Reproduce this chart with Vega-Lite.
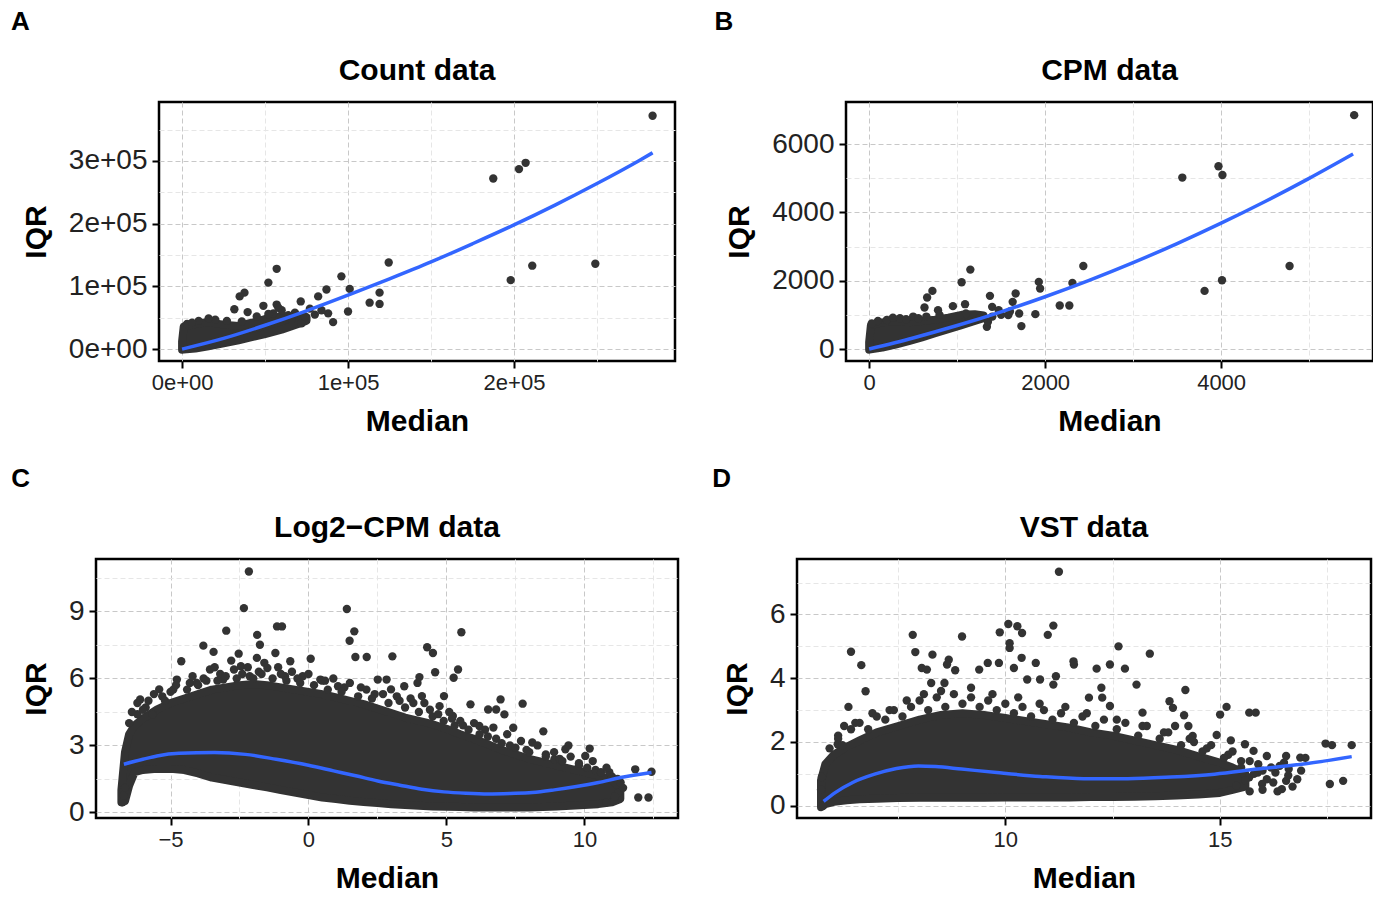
{
  "$schema": "https://vega.github.io/schema/vega-lite/v6.json",
  "padding": {"left": 10, "top": 8, "right": 0, "bottom": 0},
  "spacing": 27,
  "columns": 1,
  "align": "none",
  "datasets": {
    "ptsA": [
      {"m": 283500, "iqr": 372000}, {"m": 187500, "iqr": 272000}, {"m": 203000, "iqr": 287000}, {"m": 207000, "iqr": 297000},
      {"m": 198000, "iqr": 110000}, {"m": 211000, "iqr": 133000}, {"m": 249000, "iqr": 136000}, {"m": 124500, "iqr": 138000},
      {"m": 96000, "iqr": 116000}, {"m": 101000, "iqr": 96000}, {"m": 100000, "iqr": 60000}, {"m": 119000, "iqr": 90000},
      {"m": 113000, "iqr": 74000}, {"m": 119000, "iqr": 72000}, {"m": 87000, "iqr": 95000}, {"m": 82000, "iqr": 84000},
      {"m": 91000, "iqr": 43000}, {"m": 88000, "iqr": 57000}, {"m": 84000, "iqr": 62000}, {"m": 71500, "iqr": 76000},
      {"m": 57000, "iqr": 128000}, {"m": 52000, "iqr": 106000}, {"m": 37600, "iqr": 90000}, {"m": 34700, "iqr": 84000},
      {"m": 39500, "iqr": 59000}, {"m": 31500, "iqr": 63500}, {"m": 49000, "iqr": 69000}, {"m": 57000, "iqr": 71000},
      {"m": 55000, "iqr": 57000}, {"m": 72000, "iqr": 41000}, {"m": 77000, "iqr": 64500}, {"m": 64000, "iqr": 54000},
      {"m": 66000, "iqr": 48000}, {"m": 74000, "iqr": 52000}, {"m": 80000, "iqr": 55000}, {"m": 45000, "iqr": 52000},
      {"m": 20000, "iqr": 47000}, {"m": 10000, "iqr": 45000}, {"m": 3000, "iqr": 40000}, {"m": 60000, "iqr": 62000},
      {"m": 68000, "iqr": 58000}, {"m": 58000, "iqr": 66000}, {"m": 27000, "iqr": 45000}, {"m": 36000, "iqr": 44000},
      {"m": 16000, "iqr": 49000}, {"m": 6000, "iqr": 42000}, {"m": 52000, "iqr": 56000}
    ],
    "areaA": [
      {"m": 0, "iqr": -1000, "iqr2": 12000}, {"m": 1000, "iqr": -500, "iqr2": 36000}, {"m": 8000, "iqr": 1000, "iqr2": 40000},
      {"m": 15000, "iqr": 4000, "iqr2": 43000}, {"m": 25000, "iqr": 9000, "iqr2": 39000}, {"m": 34000, "iqr": 14000, "iqr2": 37000},
      {"m": 42000, "iqr": 19000, "iqr2": 42000}, {"m": 50000, "iqr": 24000, "iqr2": 48000}, {"m": 60000, "iqr": 31000, "iqr2": 52000},
      {"m": 70000, "iqr": 40000, "iqr2": 53000}, {"m": 75000, "iqr": 45000, "iqr2": 51000}
    ],
    "lineA": [
      {"m": 0, "iqr": 0}, {"m": 25000, "iqr": 17000}, {"m": 50000, "iqr": 38000}, {"m": 75000, "iqr": 61000},
      {"m": 100000, "iqr": 86000}, {"m": 125000, "iqr": 112000}, {"m": 150000, "iqr": 139000}, {"m": 175000, "iqr": 168000},
      {"m": 200000, "iqr": 198000}, {"m": 225000, "iqr": 230000}, {"m": 250000, "iqr": 264000}, {"m": 275000, "iqr": 300000},
      {"m": 283500, "iqr": 313000}
    ],
    "ptsB": [
      {"m": 5512, "iqr": 6848}, {"m": 3559, "iqr": 5020}, {"m": 3970, "iqr": 5350}, {"m": 4015, "iqr": 5097},
      {"m": 3812, "iqr": 1702}, {"m": 4010, "iqr": 2014}, {"m": 4778, "iqr": 2432}, {"m": 2434, "iqr": 2432},
      {"m": 2310, "iqr": 1936}, {"m": 2275, "iqr": 1274}, {"m": 2166, "iqr": 1274}, {"m": 1928, "iqr": 1965},
      {"m": 1943, "iqr": 1770}, {"m": 1889, "iqr": 1021}, {"m": 1665, "iqr": 1624}, {"m": 1631, "iqr": 1381},
      {"m": 1705, "iqr": 1041}, {"m": 1730, "iqr": 671}, {"m": 1581, "iqr": 992}, {"m": 1373, "iqr": 1556},
      {"m": 1398, "iqr": 1235}, {"m": 1150, "iqr": 2325}, {"m": 1051, "iqr": 1955}, {"m": 719, "iqr": 1702},
      {"m": 659, "iqr": 1508}, {"m": 783, "iqr": 1138}, {"m": 629, "iqr": 1216}, {"m": 952, "iqr": 1255},
      {"m": 1090, "iqr": 1313}, {"m": 1100, "iqr": 1041}, {"m": 1338, "iqr": 652}, {"m": 1472, "iqr": 1138},
      {"m": 1200, "iqr": 846}, {"m": 500, "iqr": 950}, {"m": 350, "iqr": 900}, {"m": 200, "iqr": 850},
      {"m": 100, "iqr": 820}, {"m": 30, "iqr": 750}, {"m": 1250, "iqr": 900}, {"m": 1400, "iqr": 950},
      {"m": 1500, "iqr": 1000}, {"m": 1600, "iqr": 1100}, {"m": 1350, "iqr": 800}, {"m": 800, "iqr": 1000},
      {"m": 650, "iqr": 950}, {"m": 420, "iqr": 870}, {"m": 560, "iqr": 900}, {"m": 270, "iqr": 920}
    ],
    "areaB": [
      {"m": 0, "iqr": -20, "iqr2": 200}, {"m": 20, "iqr": -10, "iqr2": 700}, {"m": 150, "iqr": 40, "iqr2": 780},
      {"m": 300, "iqr": 130, "iqr2": 820}, {"m": 450, "iqr": 230, "iqr2": 780}, {"m": 600, "iqr": 340, "iqr2": 820},
      {"m": 750, "iqr": 460, "iqr2": 860}, {"m": 900, "iqr": 580, "iqr2": 920}, {"m": 1050, "iqr": 700, "iqr2": 1000},
      {"m": 1200, "iqr": 820, "iqr2": 1020}, {"m": 1300, "iqr": 900, "iqr2": 980}
    ],
    "lineB": [
      {"m": 0, "iqr": 0}, {"m": 500, "iqr": 324}, {"m": 1000, "iqr": 687}, {"m": 1500, "iqr": 1089},
      {"m": 2000, "iqr": 1530}, {"m": 2500, "iqr": 2010}, {"m": 3000, "iqr": 2529}, {"m": 3500, "iqr": 3087},
      {"m": 4000, "iqr": 3685}, {"m": 4500, "iqr": 4320}, {"m": 5000, "iqr": 4996}, {"m": 5500, "iqr": 5710}
    ],
    "ptsC": [
      {"m": -2.16, "iqr": 10.79}, {"m": -2.34, "iqr": 9.15}, {"m": 1.39, "iqr": 9.11}, {"m": -2.98, "iqr": 8.14},
      {"m": -1.86, "iqr": 7.95}, {"m": -1.76, "iqr": 7.51}, {"m": -1.14, "iqr": 8.33}, {"m": -0.96, "iqr": 8.33},
      {"m": 5.54, "iqr": 8.07}, {"m": 1.66, "iqr": 8.11}, {"m": 1.49, "iqr": 7.69}, {"m": -3.81, "iqr": 7.47},
      {"m": -3.44, "iqr": 7.19}, {"m": -2.53, "iqr": 7.11}, {"m": -1.2, "iqr": 7.14}, {"m": 4.3, "iqr": 7.4},
      {"m": 4.51, "iqr": 7.14}, {"m": -1.87, "iqr": 6.92}, {"m": 0.08, "iqr": 6.88}, {"m": -0.66, "iqr": 6.77},
      {"m": 1.7, "iqr": 6.96}, {"m": 2.11, "iqr": 6.96}, {"m": 3.04, "iqr": 6.99}, {"m": -4.61, "iqr": 6.77},
      {"m": 5.42, "iqr": 6.4}, {"m": 5.26, "iqr": 6.03}, {"m": 4.59, "iqr": 6.28}, {"m": 4.02, "iqr": 6.06},
      {"m": -3.57, "iqr": 6.4}, {"m": -2.45, "iqr": 6.55}, {"m": -1.49, "iqr": 6.47}, {"m": -0.21, "iqr": 6.1},
      {"m": 0.43, "iqr": 5.95}, {"m": 2.51, "iqr": 5.95}, {"m": 2.83, "iqr": 5.95}, {"m": 3.47, "iqr": 5.65},
      {"m": 3.95, "iqr": 5.8}, {"m": -5.41, "iqr": 5.51}, {"m": -6.1, "iqr": 5.06}, {"m": -5.65, "iqr": 4.39},
      {"m": -4.77, "iqr": 5.95}, {"m": 5.87, "iqr": 4.84}, {"m": 6.51, "iqr": 4.61}, {"m": 6.8, "iqr": 4.61},
      {"m": 6.96, "iqr": 5.06}, {"m": 7.1, "iqr": 4.39}, {"m": 7.76, "iqr": 4.87}, {"m": 7.42, "iqr": 3.79},
      {"m": 8.51, "iqr": 3.63}, {"m": 9.42, "iqr": 3.0}, {"m": 9.31, "iqr": 2.83}, {"m": 10.19, "iqr": 2.86},
      {"m": 10.03, "iqr": 2.53}, {"m": 11.84, "iqr": 1.93}, {"m": 12.43, "iqr": 1.82}, {"m": 11.95, "iqr": 0.67},
      {"m": 12.32, "iqr": 0.67}, {"m": 5.23, "iqr": 4.32}, {"m": 4.75, "iqr": 4.76}, {"m": 4.91, "iqr": 5.21},
      {"m": 4.11, "iqr": 5.21}, {"m": 2.99, "iqr": 5.51}, {"m": 1.07, "iqr": 5.65}, {"m": -0.85, "iqr": 6.1},
      {"m": -2.13, "iqr": 6.1}, {"m": -3.09, "iqr": 5.95}, {"m": -4.05, "iqr": 5.8}, {"m": 6.19, "iqr": 3.87},
      {"m": 8.11, "iqr": 3.13}, {"m": 8.91, "iqr": 2.38}, {"m": 10.99, "iqr": 1.56}, {"m": 11.31, "iqr": 1.34},
      {"m": 11.23, "iqr": 0.89}, {"m": -6.2, "iqr": 4.4}, {"m": -5.9, "iqr": 4.7}, {"m": -5.3, "iqr": 5.2},
      {"m": -4.9, "iqr": 5.5}, {"m": -4.3, "iqr": 5.8}, {"m": -3.8, "iqr": 6.0}, {"m": -3.2, "iqr": 6.2},
      {"m": -2.7, "iqr": 6.4}, {"m": -1.8, "iqr": 6.3}, {"m": -1.0, "iqr": 6.2}, {"m": -0.4, "iqr": 6.0},
      {"m": 0.6, "iqr": 5.9}, {"m": 1.3, "iqr": 5.6}, {"m": 1.9, "iqr": 5.6}, {"m": 2.4, "iqr": 5.3},
      {"m": 3.3, "iqr": 5.0}, {"m": 3.8, "iqr": 4.9}, {"m": 4.4, "iqr": 4.6}, {"m": 5.2, "iqr": 4.2},
      {"m": 5.6, "iqr": 3.9}, {"m": 6.4, "iqr": 3.7}, {"m": 6.8, "iqr": 3.3}, {"m": 7.3, "iqr": 3.0},
      {"m": 7.9, "iqr": 2.8}, {"m": 8.6, "iqr": 2.6}, {"m": 9.1, "iqr": 2.4}, {"m": 9.8, "iqr": 2.1},
      {"m": 10.4, "iqr": 1.9}, {"m": 10.9, "iqr": 1.8}, {"m": 11.4, "iqr": 1.1}, {"m": 11.1, "iqr": 0.7},
      {"m": 10.8, "iqr": 0.45}, {"m": -6.75, "iqr": 0.45}, {"m": -6.7, "iqr": 0.75}, {"m": -6.65, "iqr": 1.1},
      {"m": -6.5, "iqr": 4.0}, {"m": -6.4, "iqr": 4.5}, {"m": -6.2, "iqr": 4.9}, {"m": -6.0, "iqr": 4.6},
      {"m": -5.8, "iqr": 5.0}, {"m": -5.6, "iqr": 5.3}, {"m": -5.2, "iqr": 5.0}, {"m": -5.0, "iqr": 5.4},
      {"m": -4.8, "iqr": 5.7}, {"m": -4.4, "iqr": 5.5}, {"m": -4.2, "iqr": 6.1}, {"m": -4.0, "iqr": 5.7},
      {"m": -3.7, "iqr": 5.9}, {"m": -3.4, "iqr": 6.5}, {"m": -3.3, "iqr": 5.9}, {"m": -3.0, "iqr": 6.1},
      {"m": -2.8, "iqr": 6.8}, {"m": -2.6, "iqr": 6.0}, {"m": -2.4, "iqr": 6.2}, {"m": -2.2, "iqr": 6.5},
      {"m": -2.0, "iqr": 6.0}, {"m": -1.7, "iqr": 6.2}, {"m": -1.6, "iqr": 6.7}, {"m": -1.3, "iqr": 6.0},
      {"m": -1.1, "iqr": 6.5}, {"m": -0.8, "iqr": 5.9}, {"m": -0.6, "iqr": 6.3}, {"m": -0.3, "iqr": 5.8},
      {"m": 0.0, "iqr": 6.2}, {"m": 0.2, "iqr": 5.7}, {"m": 0.5, "iqr": 5.9}, {"m": 0.7, "iqr": 5.5},
      {"m": 0.9, "iqr": 6.0}, {"m": 1.2, "iqr": 5.4}, {"m": 1.5, "iqr": 5.8}, {"m": 1.8, "iqr": 5.2},
      {"m": 2.1, "iqr": 5.5}, {"m": 2.3, "iqr": 5.1}, {"m": 2.7, "iqr": 5.3}, {"m": 2.9, "iqr": 4.9},
      {"m": 3.2, "iqr": 5.2}, {"m": 3.5, "iqr": 4.7}, {"m": 3.7, "iqr": 5.1}, {"m": 4.0, "iqr": 4.5},
      {"m": 4.2, "iqr": 4.9}, {"m": 4.5, "iqr": 4.3}, {"m": 4.7, "iqr": 4.4}, {"m": 4.9, "iqr": 4.1},
      {"m": 5.1, "iqr": 4.5}, {"m": 5.3, "iqr": 3.9}, {"m": 5.5, "iqr": 4.1}, {"m": 5.8, "iqr": 3.7},
      {"m": 6.0, "iqr": 4.0}, {"m": 6.2, "iqr": 3.5}, {"m": 6.5, "iqr": 3.4}, {"m": 6.7, "iqr": 3.8},
      {"m": 7.0, "iqr": 3.1}, {"m": 7.2, "iqr": 3.5}, {"m": 7.5, "iqr": 2.9}, {"m": 7.7, "iqr": 3.2},
      {"m": 8.0, "iqr": 2.7}, {"m": 8.3, "iqr": 3.0}, {"m": 8.6, "iqr": 2.5}, {"m": 8.9, "iqr": 2.7},
      {"m": 9.2, "iqr": 2.3}, {"m": 9.5, "iqr": 2.5}, {"m": 9.8, "iqr": 2.2}, {"m": 10.1, "iqr": 2.0},
      {"m": 10.3, "iqr": 2.3}, {"m": 10.6, "iqr": 1.8}, {"m": 10.8, "iqr": 2.0}, {"m": 11.0, "iqr": 1.6},
      {"m": 11.2, "iqr": 1.5}
    ],
    "areaC": [
      {"m": -6.78, "iqr": 0.45, "iqr2": 1.0}, {"m": -6.65, "iqr": 0.5, "iqr2": 2.7}, {"m": -6.5, "iqr": 1.2, "iqr2": 3.5},
      {"m": -6.3, "iqr": 1.8, "iqr2": 3.9}, {"m": -6.0, "iqr": 1.9, "iqr2": 4.2}, {"m": -5.5, "iqr": 1.95, "iqr2": 4.6},
      {"m": -5.0, "iqr": 1.95, "iqr2": 4.9}, {"m": -4.5, "iqr": 1.9, "iqr2": 5.1}, {"m": -4.0, "iqr": 1.75, "iqr2": 5.3},
      {"m": -3.5, "iqr": 1.56, "iqr2": 5.5}, {"m": -3.0, "iqr": 1.45, "iqr2": 5.6}, {"m": -2.5, "iqr": 1.34, "iqr2": 5.7},
      {"m": -2.0, "iqr": 1.23, "iqr2": 5.75}, {"m": -1.5, "iqr": 1.12, "iqr2": 5.7}, {"m": -1.0, "iqr": 1.0, "iqr2": 5.6},
      {"m": -0.5, "iqr": 0.89, "iqr2": 5.5}, {"m": 0, "iqr": 0.78, "iqr2": 5.4}, {"m": 0.5, "iqr": 0.67, "iqr2": 5.3},
      {"m": 1.0, "iqr": 0.6, "iqr2": 5.15}, {"m": 1.5, "iqr": 0.52, "iqr2": 5.0}, {"m": 2.0, "iqr": 0.47, "iqr2": 4.85},
      {"m": 2.5, "iqr": 0.42, "iqr2": 4.65}, {"m": 3.0, "iqr": 0.37, "iqr2": 4.45}, {"m": 3.5, "iqr": 0.33, "iqr2": 4.25},
      {"m": 4.0, "iqr": 0.3, "iqr2": 4.1}, {"m": 4.5, "iqr": 0.27, "iqr2": 3.95}, {"m": 5.0, "iqr": 0.25, "iqr2": 3.75},
      {"m": 5.5, "iqr": 0.24, "iqr2": 3.5}, {"m": 6.0, "iqr": 0.22, "iqr2": 3.3}, {"m": 6.5, "iqr": 0.22, "iqr2": 3.05},
      {"m": 7.0, "iqr": 0.22, "iqr2": 2.8}, {"m": 7.5, "iqr": 0.22, "iqr2": 2.6}, {"m": 8.0, "iqr": 0.22, "iqr2": 2.4},
      {"m": 8.5, "iqr": 0.24, "iqr2": 2.25}, {"m": 9.0, "iqr": 0.27, "iqr2": 2.1}, {"m": 9.5, "iqr": 0.3, "iqr2": 1.95},
      {"m": 10.0, "iqr": 0.33, "iqr2": 1.8}, {"m": 10.5, "iqr": 0.37, "iqr2": 1.65}, {"m": 11.0, "iqr": 0.45, "iqr2": 1.45},
      {"m": 11.3, "iqr": 0.6, "iqr2": 1.1}
    ],
    "lineC": [
      {"m": -6.69, "iqr": 2.16}, {"m": -6.0, "iqr": 2.38}, {"m": -5.49, "iqr": 2.53}, {"m": -4.69, "iqr": 2.65},
      {"m": -3.41, "iqr": 2.68}, {"m": -2.29, "iqr": 2.6}, {"m": -1.17, "iqr": 2.38}, {"m": 0, "iqr": 2.11},
      {"m": 0.91, "iqr": 1.86}, {"m": 1.71, "iqr": 1.64}, {"m": 2.51, "iqr": 1.41}, {"m": 3.31, "iqr": 1.22},
      {"m": 4.11, "iqr": 1.04}, {"m": 4.91, "iqr": 0.92}, {"m": 5.71, "iqr": 0.86}, {"m": 6.51, "iqr": 0.83},
      {"m": 7.31, "iqr": 0.85}, {"m": 8.11, "iqr": 0.89}, {"m": 8.91, "iqr": 1.01}, {"m": 9.71, "iqr": 1.16},
      {"m": 10.51, "iqr": 1.34}, {"m": 11.31, "iqr": 1.56}, {"m": 12.43, "iqr": 1.79}
    ],
    "ptsD": [
      {"m": 11.25, "iqr": 7.34}, {"m": 10.07, "iqr": 5.7}, {"m": 10.28, "iqr": 5.63}, {"m": 11.12, "iqr": 5.65},
      {"m": 10.99, "iqr": 5.36}, {"m": 9.87, "iqr": 5.44}, {"m": 10.39, "iqr": 5.42}, {"m": 10.1, "iqr": 5.1},
      {"m": 10.1, "iqr": 4.95}, {"m": 7.84, "iqr": 5.36}, {"m": 8.99, "iqr": 5.31}, {"m": 6.4, "iqr": 4.83},
      {"m": 6.64, "iqr": 4.41}, {"m": 6.74, "iqr": 3.59}, {"m": 6.34, "iqr": 3.1}, {"m": 7.9, "iqr": 4.82},
      {"m": 8.3, "iqr": 4.74}, {"m": 8.05, "iqr": 4.32}, {"m": 8.17, "iqr": 4.27}, {"m": 8.68, "iqr": 4.58},
      {"m": 8.64, "iqr": 4.43}, {"m": 8.83, "iqr": 4.25}, {"m": 8.27, "iqr": 3.85}, {"m": 8.58, "iqr": 3.85},
      {"m": 9.39, "iqr": 4.27}, {"m": 9.59, "iqr": 4.48}, {"m": 9.85, "iqr": 4.48}, {"m": 10.2, "iqr": 4.32},
      {"m": 10.38, "iqr": 4.64}, {"m": 10.71, "iqr": 4.48}, {"m": 10.51, "iqr": 3.96}, {"m": 10.81, "iqr": 3.96},
      {"m": 11.18, "iqr": 4.06}, {"m": 11.12, "iqr": 3.8}, {"m": 11.59, "iqr": 4.53}, {"m": 11.6, "iqr": 4.43},
      {"m": 12.13, "iqr": 4.3}, {"m": 12.44, "iqr": 4.43}, {"m": 12.64, "iqr": 5.0}, {"m": 12.79, "iqr": 4.3},
      {"m": 13.37, "iqr": 4.77}, {"m": 13.06, "iqr": 3.8}, {"m": 12.24, "iqr": 3.7}, {"m": 12.26, "iqr": 3.39},
      {"m": 12.44, "iqr": 3.13}, {"m": 11.95, "iqr": 3.39}, {"m": 13.2, "iqr": 2.92}, {"m": 14.2, "iqr": 3.63},
      {"m": 13.83, "iqr": 3.28}, {"m": 13.91, "iqr": 3.07}, {"m": 14.17, "iqr": 2.84}, {"m": 13.96, "iqr": 2.5},
      {"m": 14.27, "iqr": 2.5}, {"m": 14.37, "iqr": 2.19}, {"m": 15.16, "iqr": 3.1}, {"m": 15.01, "iqr": 2.86},
      {"m": 15.69, "iqr": 2.92}, {"m": 15.84, "iqr": 2.92}, {"m": 14.93, "iqr": 2.22}, {"m": 15.26, "iqr": 2.05},
      {"m": 15.59, "iqr": 1.93}, {"m": 15.79, "iqr": 1.72}, {"m": 16.1, "iqr": 1.56}, {"m": 16.55, "iqr": 1.56},
      {"m": 16.88, "iqr": 1.51}, {"m": 17.47, "iqr": 1.95}, {"m": 17.62, "iqr": 1.9}, {"m": 18.08, "iqr": 1.9},
      {"m": 16.4, "iqr": 1.25}, {"m": 16.61, "iqr": 1.15}, {"m": 16.81, "iqr": 0.83}, {"m": 16.45, "iqr": 0.52},
      {"m": 16.55, "iqr": 0.78}, {"m": 17.57, "iqr": 0.68}, {"m": 17.88, "iqr": 0.78}, {"m": 16.25, "iqr": 0.73},
      {"m": 15.89, "iqr": 1.04}, {"m": 15.69, "iqr": 0.89}, {"m": 15.39, "iqr": 0.63}, {"m": 15.99, "iqr": 0.68},
      {"m": 16.3, "iqr": 1.04}, {"m": 16.5, "iqr": 1.35}, {"m": 16.1, "iqr": 0.83}, {"m": 6.24, "iqr": 2.5},
      {"m": 6.09, "iqr": 1.93}, {"m": 6.1, "iqr": 2.2}, {"m": 6.5, "iqr": 2.6}, {"m": 6.9, "iqr": 2.9},
      {"m": 7.3, "iqr": 3.0}, {"m": 7.7, "iqr": 3.3}, {"m": 8.1, "iqr": 3.5}, {"m": 8.5, "iqr": 3.6},
      {"m": 9.2, "iqr": 3.7}, {"m": 9.7, "iqr": 3.5}, {"m": 10.3, "iqr": 3.4}, {"m": 10.8, "iqr": 3.2},
      {"m": 11.4, "iqr": 3.1}, {"m": 11.9, "iqr": 2.9}, {"m": 12.6, "iqr": 2.7}, {"m": 13.2, "iqr": 2.5},
      {"m": 13.7, "iqr": 2.3}, {"m": 14.4, "iqr": 2.0}, {"m": 14.7, "iqr": 1.8}, {"m": 15.2, "iqr": 1.6},
      {"m": 15.5, "iqr": 1.4}, {"m": 15.9, "iqr": 1.3}, {"m": 16.2, "iqr": 1.2}, {"m": 16.6, "iqr": 0.95},
      {"m": 16.9, "iqr": 1.1}, {"m": 17.0, "iqr": 1.5}, {"m": 16.7, "iqr": 0.6}, {"m": 16.35, "iqr": 0.45},
      {"m": 5.75, "iqr": 0.0}, {"m": 5.7, "iqr": 0.5}, {"m": 5.72, "iqr": 0.9}, {"m": 15.7, "iqr": 0.45},
      {"m": 16.0, "iqr": 0.5},
      {"m": 5.9, "iqr": 1.8}, {"m": 6.1, "iqr": 2.1}, {"m": 6.2, "iqr": 1.9}, {"m": 6.4, "iqr": 2.4},
      {"m": 6.6, "iqr": 2.6}, {"m": 6.8, "iqr": 2.4}, {"m": 7.0, "iqr": 2.8}, {"m": 7.2, "iqr": 2.7},
      {"m": 7.4, "iqr": 3.0}, {"m": 7.6, "iqr": 2.8}, {"m": 7.8, "iqr": 3.1}, {"m": 8.0, "iqr": 3.3},
      {"m": 8.2, "iqr": 3.0}, {"m": 8.4, "iqr": 3.4}, {"m": 8.6, "iqr": 3.1}, {"m": 8.8, "iqr": 3.5},
      {"m": 9.0, "iqr": 3.2}, {"m": 9.2, "iqr": 3.4}, {"m": 9.4, "iqr": 3.1}, {"m": 9.6, "iqr": 3.3},
      {"m": 9.8, "iqr": 3.0}, {"m": 10.0, "iqr": 3.2}, {"m": 10.2, "iqr": 2.9}, {"m": 10.4, "iqr": 3.1},
      {"m": 10.6, "iqr": 2.8}, {"m": 10.9, "iqr": 3.0}, {"m": 11.1, "iqr": 2.7}, {"m": 11.3, "iqr": 2.9},
      {"m": 11.6, "iqr": 2.6}, {"m": 11.8, "iqr": 2.8}, {"m": 12.1, "iqr": 2.5}, {"m": 12.3, "iqr": 2.7},
      {"m": 12.6, "iqr": 2.4}, {"m": 12.8, "iqr": 2.6}, {"m": 13.1, "iqr": 2.2}, {"m": 13.3, "iqr": 2.5},
      {"m": 13.6, "iqr": 2.1}, {"m": 13.8, "iqr": 2.3}, {"m": 14.1, "iqr": 1.9}, {"m": 14.3, "iqr": 2.1},
      {"m": 14.6, "iqr": 1.7}, {"m": 14.8, "iqr": 1.9}, {"m": 15.1, "iqr": 1.5}, {"m": 15.3, "iqr": 1.7},
      {"m": 15.5, "iqr": 1.2}, {"m": 15.7, "iqr": 1.4}, {"m": 15.6, "iqr": 0.8}, {"m": 15.8, "iqr": 1.0},
      {"m": 16.0, "iqr": 1.1}
    ],
    "areaD": [
      {"m": 5.7, "iqr": -0.05, "iqr2": 0.8}, {"m": 5.8, "iqr": 0.05, "iqr2": 1.3}, {"m": 6.0, "iqr": 0.12, "iqr2": 1.6},
      {"m": 6.3, "iqr": 0.17, "iqr2": 1.85}, {"m": 6.6, "iqr": 0.2, "iqr2": 2.05}, {"m": 7.0, "iqr": 0.22, "iqr2": 2.3},
      {"m": 7.5, "iqr": 0.24, "iqr2": 2.5}, {"m": 8.0, "iqr": 0.25, "iqr2": 2.7}, {"m": 8.5, "iqr": 0.25, "iqr2": 2.85},
      {"m": 9.0, "iqr": 0.25, "iqr2": 2.9}, {"m": 9.5, "iqr": 0.25, "iqr2": 2.85}, {"m": 10.0, "iqr": 0.26, "iqr2": 2.75},
      {"m": 10.5, "iqr": 0.26, "iqr2": 2.65}, {"m": 11.0, "iqr": 0.26, "iqr2": 2.55}, {"m": 11.5, "iqr": 0.26, "iqr2": 2.45},
      {"m": 12.0, "iqr": 0.27, "iqr2": 2.3}, {"m": 12.5, "iqr": 0.27, "iqr2": 2.2}, {"m": 13.0, "iqr": 0.28, "iqr2": 2.05},
      {"m": 13.5, "iqr": 0.3, "iqr2": 1.9}, {"m": 14.0, "iqr": 0.32, "iqr2": 1.75}, {"m": 14.5, "iqr": 0.35, "iqr2": 1.55},
      {"m": 15.0, "iqr": 0.4, "iqr2": 1.35}, {"m": 15.3, "iqr": 0.5, "iqr2": 1.2}, {"m": 15.6, "iqr": 0.6, "iqr2": 1.0}
    ],
    "lineD": [
      {"m": 5.76, "iqr": 0.135}, {"m": 6.04, "iqr": 0.42}, {"m": 6.44, "iqr": 0.73}, {"m": 6.95, "iqr": 0.99},
      {"m": 7.46, "iqr": 1.17}, {"m": 7.97, "iqr": 1.25}, {"m": 8.37, "iqr": 1.23}, {"m": 8.98, "iqr": 1.15},
      {"m": 9.8, "iqr": 1.04}, {"m": 10.81, "iqr": 0.92}, {"m": 11.83, "iqr": 0.85}, {"m": 12.85, "iqr": 0.85},
      {"m": 13.86, "iqr": 0.9}, {"m": 14.88, "iqr": 0.99}, {"m": 15.89, "iqr": 1.15}, {"m": 16.91, "iqr": 1.3},
      {"m": 18.08, "iqr": 1.54}
    ]
  },
  "concat": [
    {
      "columns": 2,
      "align": "none",
      "spacing": 0,
      "concat": [
        {"width": 1, "height": 1, "view": {"stroke": null}, "data": {"values": []}, "mark": "point"},
        {
          "spacing": 37,
          "hconcat": [
            {
              "title": {"text": "A", "anchor": "start", "frame": "bounds", "fontSize": 26, "fontWeight": "bold", "offset": 20, "dx": -9},
              "vconcat": [
                {
                  "title": {"text": "Count data", "offset": 16},
                  "width": 516, "height": 259,
                  "encoding": {
                    "x": {"field": "m", "type": "quantitative", "title": "Median",
                      "scale": {"domain": [-13900, 297000], "nice": false, "zero": false},
                      "axis": {"values": [0, 50000, 100000, 150000, 200000, 250000],
                        "labelExpr": "datum.value % 100000 === 0 ? (datum.value === 0 ? '0e+00' : format(datum.value / 100000, 'd') + 'e+05') : ''",
                        "tickOpacity": {"condition": {"test": "datum.value % 100000 === 0", "value": 1}, "value": 0},
                        "gridColor": {"condition": {"test": "datum.value % 100000 === 0", "value": "#c8c8c8"}, "value": "#e6e6e6"}}},
                    "y": {"field": "iqr", "type": "quantitative", "title": "IQR",
                      "scale": {"domain": [-19000, 394000], "nice": false, "zero": false},
                      "axis": {"values": [0, 50000, 100000, 150000, 200000, 250000, 300000, 350000],
                        "labelExpr": "datum.value % 100000 === 0 ? (datum.value === 0 ? '0e+00' : format(datum.value / 100000, 'd') + 'e+05') : ''",
                        "tickOpacity": {"condition": {"test": "datum.value % 100000 === 0", "value": 1}, "value": 0},
                        "gridColor": {"condition": {"test": "datum.value % 100000 === 0", "value": "#c8c8c8"}, "value": "#e6e6e6"}}}
                  },
                  "layer": [
                    {"data": {"name": "areaA"}, "mark": {"type": "area", "color": "#333333", "stroke": "#333333", "strokeWidth": 8, "strokeJoin": "round"}, "encoding": {"y2": {"field": "iqr2"}}},
                    {"data": {"name": "ptsA"}, "mark": {"type": "point", "filled": true, "size": 70, "color": "#333333", "opacity": 1}},
                    {"data": {"name": "lineA"}, "mark": {"type": "line", "color": "#3366FF", "strokeWidth": 3.5, "interpolate": "monotone"}}
                  ]
                }
              ]
            },
            {
              "title": {"text": "B", "anchor": "start", "frame": "bounds", "fontSize": 26, "fontWeight": "bold", "offset": 20, "dx": -9},
              "vconcat": [
                {
                  "title": {"text": "CPM data", "offset": 16},
                  "width": 527, "height": 259,
                  "encoding": {
                    "x": {"field": "m", "type": "quantitative", "title": "Median",
                      "scale": {"domain": [-263, 5726], "nice": false, "zero": false},
                      "axis": {"values": [0, 1000, 2000, 3000, 4000, 5000],
                        "labelExpr": "datum.value % 2000 === 0 ? format(datum.value, 'd') : ''",
                        "tickOpacity": {"condition": {"test": "datum.value % 2000 === 0", "value": 1}, "value": 0},
                        "gridColor": {"condition": {"test": "datum.value % 2000 === 0", "value": "#c8c8c8"}, "value": "#e6e6e6"}}},
                    "y": {"field": "iqr", "type": "quantitative", "title": "IQR",
                      "scale": {"domain": [-351, 7233], "nice": false, "zero": false},
                      "axis": {"values": [0, 1000, 2000, 3000, 4000, 5000, 6000],
                        "labelExpr": "datum.value % 2000 === 0 ? format(datum.value, 'd') : ''",
                        "tickOpacity": {"condition": {"test": "datum.value % 2000 === 0", "value": 1}, "value": 0},
                        "gridColor": {"condition": {"test": "datum.value % 2000 === 0", "value": "#c8c8c8"}, "value": "#e6e6e6"}}}
                  },
                  "layer": [
                    {"data": {"name": "areaB"}, "mark": {"type": "area", "color": "#333333", "stroke": "#333333", "strokeWidth": 8, "strokeJoin": "round"}, "encoding": {"y2": {"field": "iqr2"}}},
                    {"data": {"name": "ptsB"}, "mark": {"type": "point", "filled": true, "size": 70, "color": "#333333", "opacity": 1}},
                    {"data": {"name": "lineB"}, "mark": {"type": "line", "color": "#3366FF", "strokeWidth": 3.5, "interpolate": "monotone"}}
                  ]
                }
              ]
            }
          ]
        }
      ]
    },
    {
      "columns": 2,
      "align": "none",
      "spacing": 0,
      "concat": [
        {"width": 1, "height": 1, "view": {"stroke": null}, "data": {"values": []}, "mark": "point"},
        {
          "spacing": 32,
          "hconcat": [
            {
              "title": {"text": "C", "anchor": "start", "frame": "bounds", "fontSize": 26, "fontWeight": "bold", "offset": 20, "dx": -9},
              "vconcat": [
                {
                  "title": {"text": "Log2−CPM data", "offset": 16},
                  "width": 582, "height": 259,
                  "encoding": {
                    "x": {"field": "m", "type": "quantitative", "title": "Median",
                      "scale": {"domain": [-7.7, 13.39], "nice": false, "zero": false},
                      "axis": {"values": [-5, -2.5, 0, 2.5, 5, 7.5, 10, 12.5],
                        "labelExpr": "datum.value % 5 === 0 ? (datum.value < 0 ? '−' + format(-datum.value, 'd') : format(datum.value, 'd')) : ''",
                        "tickOpacity": {"condition": {"test": "datum.value % 5 === 0", "value": 1}, "value": 0},
                        "gridColor": {"condition": {"test": "datum.value % 5 === 0", "value": "#c8c8c8"}, "value": "#e6e6e6"}}},
                    "y": {"field": "iqr", "type": "quantitative", "title": "IQR",
                      "scale": {"domain": [-0.25, 11.35], "nice": false, "zero": false},
                      "axis": {"values": [0, 1.5, 3, 4.5, 6, 7.5, 9, 10.5],
                        "labelExpr": "datum.value % 3 === 0 ? format(datum.value, 'd') : ''",
                        "tickOpacity": {"condition": {"test": "datum.value % 3 === 0", "value": 1}, "value": 0},
                        "gridColor": {"condition": {"test": "datum.value % 3 === 0", "value": "#c8c8c8"}, "value": "#e6e6e6"}}}
                  },
                  "layer": [
                    {"data": {"name": "areaC"}, "mark": {"type": "area", "color": "#333333", "stroke": "#333333", "strokeWidth": 8, "strokeJoin": "round"}, "encoding": {"y2": {"field": "iqr2"}}},
                    {"data": {"name": "ptsC"}, "mark": {"type": "point", "filled": true, "size": 70, "color": "#333333", "opacity": 1}},
                    {"data": {"name": "lineC"}, "mark": {"type": "line", "color": "#3366FF", "strokeWidth": 3.5, "interpolate": "monotone"}}
                  ]
                }
              ]
            },
            {
              "title": {"text": "D", "anchor": "start", "frame": "bounds", "fontSize": 26, "fontWeight": "bold", "offset": 20, "dx": -9},
              "vconcat": [
                {
                  "title": {"text": "VST data", "offset": 16},
                  "width": 574, "height": 259,
                  "encoding": {
                    "x": {"field": "m", "type": "quantitative", "title": "Median",
                      "scale": {"domain": [5.14, 18.53], "nice": false, "zero": false},
                      "axis": {"values": [7.5, 10, 12.5, 15, 17.5],
                        "labelExpr": "datum.value % 5 === 0 ? format(datum.value, 'd') : ''",
                        "tickOpacity": {"condition": {"test": "datum.value % 5 === 0", "value": 1}, "value": 0},
                        "gridColor": {"condition": {"test": "datum.value % 5 === 0", "value": "#c8c8c8"}, "value": "#e6e6e6"}}},
                    "y": {"field": "iqr", "type": "quantitative", "title": "IQR",
                      "scale": {"domain": [-0.385, 7.74], "nice": false, "zero": false},
                      "axis": {"values": [0, 1, 2, 3, 4, 5, 6, 7],
                        "labelExpr": "datum.value % 2 === 0 ? format(datum.value, 'd') : ''",
                        "tickOpacity": {"condition": {"test": "datum.value % 2 === 0", "value": 1}, "value": 0},
                        "gridColor": {"condition": {"test": "datum.value % 2 === 0", "value": "#c8c8c8"}, "value": "#e6e6e6"}}}
                  },
                  "layer": [
                    {"data": {"name": "areaD"}, "mark": {"type": "area", "color": "#333333", "stroke": "#333333", "strokeWidth": 8, "strokeJoin": "round"}, "encoding": {"y2": {"field": "iqr2"}}},
                    {"data": {"name": "ptsD"}, "mark": {"type": "point", "filled": true, "size": 70, "color": "#333333", "opacity": 1}},
                    {"data": {"name": "lineD"}, "mark": {"type": "line", "color": "#3366FF", "strokeWidth": 3.5, "interpolate": "monotone"}}
                  ]
                }
              ]
            }
          ]
        }
      ]
    }
  ],
  "config": {
    "font": "Liberation Sans",
    "view": {"stroke": "#000000", "strokeWidth": 2.5},
    "axis": {
      "domain": false, "tickColor": "#000000", "tickWidth": 2, "tickSize": 7,
      "labelColor": "#222222", "titleColor": "#000000", "titleFontWeight": "bold", "titleFontSize": 30,
      "labelFont": "Liberation Sans", "titleFont": "Liberation Sans", "labelOverlap": false, "labelFlush": false,
      "gridWidth": 1, "gridDash": [5, 3]
    },
    "axisX": {"labelFontSize": 22, "labelPadding": 4, "titlePadding": 13},
    "axisY": {"labelFontSize": 28, "labelPadding": 5, "titlePadding": 17},
    "title": {"font": "Liberation Sans", "fontSize": 30, "fontWeight": "bold", "color": "#000000"}
  }
}
